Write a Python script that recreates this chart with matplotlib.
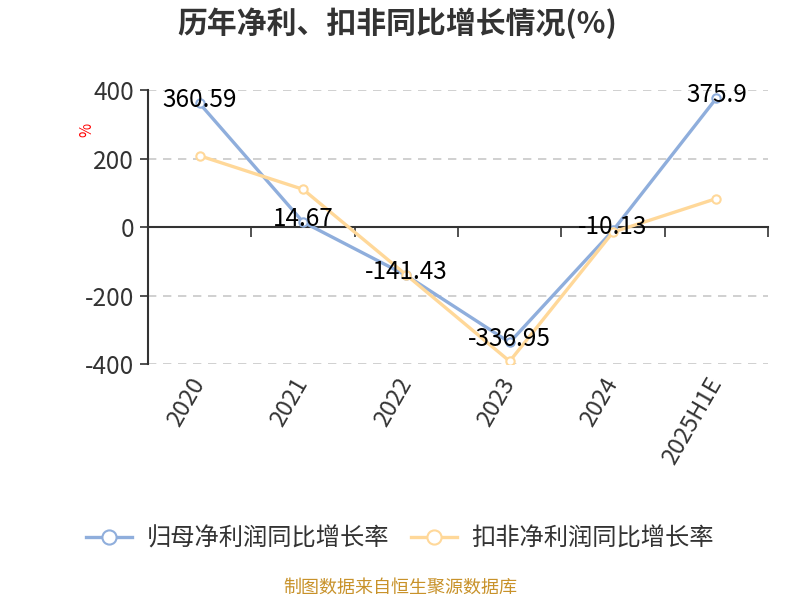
import numpy as np
import matplotlib
matplotlib.use('Agg')
from matplotlib import pyplot as plt
from matplotlib import transforms as mtrans

plt.rcParams['font.family'] = ['Noto Sans CJK SC', 'DejaVu Sans']
plt.rcParams['axes.unicode_minus'] = False

# data
years = ['2020', '2021', '2022', '2023', '2024', '2025H1E']
netGrowth = [360.59, 14.67, -141.43, -336.95, -10.13, 375.9]
deductGrowth = [208, 110, -140, -392, -15, 83]
seriesNames = ['归母净利润同比增长率', '扣非净利润同比增长率']

blue = '#8FAEDC'
orange = '#FFD899'
txt = '#333333'

fig = plt.figure(figsize=(8, 6), dpi=100)
ax = fig.add_axes([0.185, 0.3933, 0.775, 0.4567])

x = np.arange(len(years))
l1, = ax.plot(x, netGrowth, color=blue, lw=2.4, marker='o', ms=6,
              mfc='white', mec=blue, mew=1.5, zorder=3)
l2, = ax.plot(x, deductGrowth, color=orange, lw=2.4, marker='o', ms=6,
              mfc='white', mec=orange, mew=1.5, zorder=4)

off = mtrans.offset_copy(ax.transData, fig=fig, x=0, y=3, units='dots')
for xi, v in zip(x, netGrowth):
    ax.text(xi, v, '%g' % v, transform=off, ha='center', va='center',
            fontsize=17.5, color='black', zorder=6)

ax.set_xlim(-0.5, len(years) - 0.5)
ax.set_ylim(-400, 400)
ax.set_yticks([-400, -200, 0, 200, 400])
ax.tick_params(axis='y', labelsize=17.5, colors=txt, length=6, width=1.2,
               pad=4)
for g in [-400, -200, 200, 400]:
    ax.axhline(g, color='#C8C8C8', lw=1.2, ls=(0, (5, 4)), zorder=1)

ax.set_xticks(x, years, rotation=60, ha='right', va='center',
              rotation_mode='anchor')
ax.tick_params(axis='x', length=0, pad=11, labelsize=17, colors=txt)

for s in ['top', 'right', 'bottom']:
    ax.spines[s].set_visible(False)
ax.spines['left'].set_color(txt)
ax.spines['left'].set_linewidth(1.5)

# zero axis with category-boundary ticks
sec = ax.secondary_xaxis(0, transform=ax.transData)
sec.set_xticks(np.arange(-0.5, len(years), 1.0), labels=[])
sec.tick_params(axis='x', direction='out', length=7, width=1.2, color=txt)
sec.spines['bottom'].set_color(txt)
sec.spines['bottom'].set_linewidth(1.5)

fig.text(0.497, 0.962, '历年净利、扣非同比增长情况(%)', ha='center',
         va='center', fontsize=21.5, fontweight='bold', color=txt)
fig.text(0.109, 0.783, '%', color='red', rotation=90, fontsize=11,
         ha='center', va='center')

fig.legend([l1, l2], seriesNames, loc='center', bbox_to_anchor=(0.5, 0.103),
           ncol=2, frameon=False, fontsize=17.5, markerscale=1.7,
           handlelength=1.9, handletextpad=0.6, columnspacing=0.9,
           labelcolor=txt)

fig.text(0.5, 0.02, '制图数据来自恒生聚源数据库', ha='center', va='center',
         fontsize=13, color='#C8922A')

fig.savefig('out.png', dpi=100)
